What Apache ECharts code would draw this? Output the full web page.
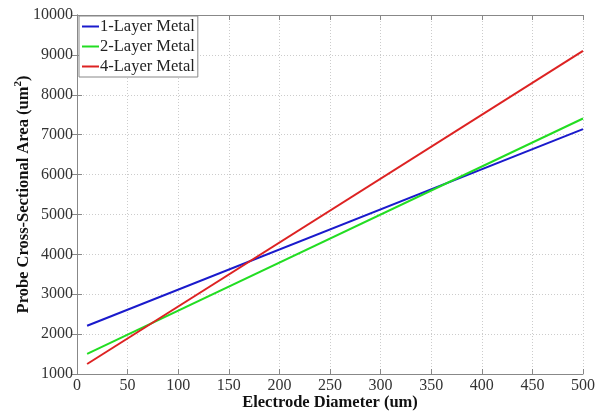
<!DOCTYPE html>
<html><head><meta charset="utf-8">
<script src="https://cdn.jsdelivr.net/npm/echarts@6/dist/echarts.min.js"></script>
<style>html,body{margin:0;padding:0;background:#fff}#c{width:603px;height:413px}</style>
</head><body><div id="c"></div>
<script>
const seriesNames = ['1-Layer Metal', '2-Layer Metal', '4-Layer Metal'];
const seriesColors = ['#1a1acc', '#22dd22', '#dd2222'];
const diameters = [10, 500];
const oneLayer = [2210, 7140];
const twoLayer = [1505, 7405];
const fourLayer = [1250, 9100];
const seriesValues = [oneLayer, twoLayer, fourLayer];
const xTicks = [0, 50, 100, 150, 200, 250, 300, 350, 400, 450, 500];
const yTicks = [1000, 2000, 3000, 4000, 5000, 6000, 7000, 8000, 9000, 10000];

const font = 'Liberation Serif';
const chart = echarts.init(document.getElementById('c'));
const axisLine = {show: true, lineStyle: {color: '#888', width: 1}};
const tick = {show: true, inside: true, length: 5, lineStyle: {color: '#888'}};
chart.setOption({
  animation: false,
  backgroundColor: '#fff',
  grid: {left: 77, right: 20, top: 15, bottom: 39, containLabel: false, outerBoundsMode: 'none'},
  legend: {
    orient: 'vertical', left: 79, top: 16,
    backgroundColor: '#fff', borderColor: '#888', borderWidth: 1,
    padding: [2, 3, 2, 3], itemGap: 3, itemWidth: 17, itemHeight: 16,
    icon: 'path://M0,7 H17 V9 H0 Z',
    textStyle: {fontFamily: font, fontSize: 16.5, color: '#222', padding: [0, 0, 0, -4]},
    data: seriesNames
  },
  xAxis: [{
    type: 'value', min: xTicks[0], max: xTicks[xTicks.length - 1], interval: 50,
    axisLine: axisLine, axisTick: tick,
    axisLabel: {fontFamily: font, fontSize: 16, color: '#333', margin: 4},
    splitLine: {show: true, lineStyle: {color: '#ccc', type: [1, 2]}},
    name: 'Electrode Diameter (um)', nameLocation: 'middle', nameGap: 20, nameMoveOverlap: false,
    nameTextStyle: {fontFamily: font, fontSize: 16.5, fontWeight: 'bold', color: '#111'}
  }, {
    type: 'value', position: 'top', min: 0, max: 500, interval: 50,
    axisLine: axisLine, axisTick: tick, axisLabel: {show: false}, splitLine: {show: false}
  }],
  yAxis: [{
    type: 'value', min: yTicks[0], max: yTicks[yTicks.length - 1], interval: 1000,
    axisLine: axisLine, axisTick: tick,
    axisLabel: {fontFamily: font, fontSize: 16, color: '#333', margin: 4, formatter: v => String(v)},
    splitLine: {show: true, lineStyle: {color: '#ccc', type: [1, 2]}},
    name: '{a|Probe Cross-Sectional Area (um}{s|2}{a|)}', nameLocation: 'middle', nameGap: 43, nameMoveOverlap: false,
    nameTextStyle: {
      rich: {
        a: {fontFamily: font, fontSize: 16.5, fontWeight: 'bold', color: '#111'},
        s: {fontFamily: font, fontSize: 11, fontWeight: 'bold', color: '#111', verticalAlign: 'top', padding: [0, 0, 10, 0]}
      }
    }
  }, {
    type: 'value', position: 'right', min: 1000, max: 10000, interval: 1000,
    axisLine: axisLine, axisTick: tick, axisLabel: {show: false}, splitLine: {show: false}
  }],
  series: seriesNames.map((n, i) => ({
    name: n, type: 'line', showSymbol: false, symbol: 'none',
    color: seriesColors[i],
    lineStyle: {width: 2, color: seriesColors[i]},
    data: diameters.map((d, j) => [d, seriesValues[i][j]])
  }))
});
</script></body></html>
